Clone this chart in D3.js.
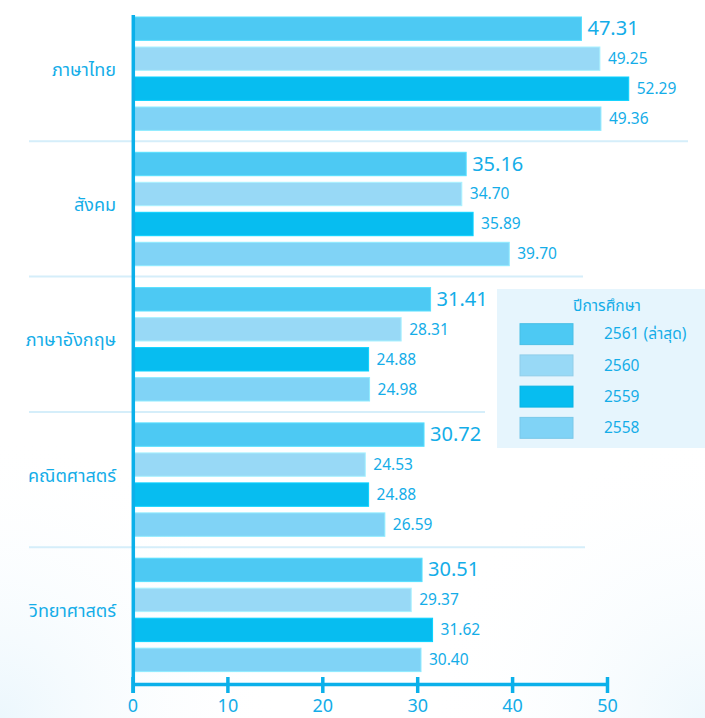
<!DOCTYPE html>
<html>
<head>
<meta charset="utf-8">
<script src="https://cdn.jsdelivr.net/npm/d3@7"></script>
<style>
  html, body { margin: 0; padding: 0; background: #ffffff; }
  svg { display: block; font-family: "Noto Sans Thai", "Noto Sans", "Open Sans", sans-serif; }
</style>
</head>
<body>
<svg id="chart" width="705" height="718"></svg>
<script>
// Subjects (groups) and academic years (series)
const categories = ["ภาษาไทย", "สังคม", "ภาษาอังกฤษ", "คณิตศาสตร์", "วิทยาศาสตร์"];
const years = ["2561", "2560", "2559", "2558"];
const yearLabels = ["2561 (ล่าสุด)", "2560", "2559", "2558"];
const legendTitle = "ปีการศึกษา";

// Average scores per year, one array per year, in subject order
const scores2561 = [47.31, 35.16, 31.41, 30.72, 30.51];
const scores2560 = [49.25, 34.70, 28.31, 24.53, 29.37];
const scores2559 = [52.29, 35.89, 24.88, 24.88, 31.62];
const scores2558 = [49.36, 39.70, 24.98, 26.59, 30.40];
const seriesValues = [scores2561, scores2560, scores2559, scores2558];

const tickValues = [0, 10, 20, 30, 40, 50];

const colors = ["#4dc9f3", "#98d9f6", "#07bdf0", "#80d3f6"];
const textColor = "#14ade8";
const axisColor = "#0bb0ea";

const svg = d3.select("#chart");

// soft background tint
const defs = svg.append("defs");
const g1 = defs.append("radialGradient").attr("id", "bgTint1").attr("cx", "0%").attr("cy", "100%").attr("r", "40%");
g1.append("stop").attr("offset", "0%").attr("stop-color", "#ecf7fd");
g1.append("stop").attr("offset", "100%").attr("stop-color", "#ffffff").attr("stop-opacity", 0);
const g2 = defs.append("radialGradient").attr("id", "bgTint2").attr("cx", "100%").attr("cy", "100%").attr("r", "40%");
g2.append("stop").attr("offset", "0%").attr("stop-color", "#eef8fd");
g2.append("stop").attr("offset", "100%").attr("stop-color", "#ffffff").attr("stop-opacity", 0);
svg.append("rect").attr("width", 705).attr("height", 718).attr("fill", "#ffffff");
svg.append("rect").attr("width", 705).attr("height", 718).attr("fill", "url(#bgTint1)");
svg.append("rect").attr("width", 705).attr("height", 718).attr("fill", "url(#bgTint2)");

// scales
const x = d3.scaleLinear().domain([0, 50]).range([132.5, 607]);
const y0 = d3.scaleBand().domain(categories).range([10, 10 + 5 * 135.3]);
const y1 = d3.scaleBand().domain(years).range([3.7, 123.7]).paddingInner(0.22).paddingOuter(0.11);

// separator lines between subject groups (right ends in px)
const sepEnds = [688, 583, 485, 585];
categories.slice(0, -1).forEach((c, i) => {
  const yy = y0(c) + y0.step() - 4;
  svg.append("line")
    .attr("x1", 29).attr("x2", sepEnds[i])
    .attr("y1", yy).attr("y2", yy)
    .attr("stroke", "#d5eefa").attr("stroke-width", 2);
});

// bars
const groups = svg.selectAll("g.group")
  .data(categories)
  .join("g")
  .attr("class", "group")
  .attr("transform", d => `translate(0,${y0(d)})`);

groups.each(function(cat, ci) {
  const g = d3.select(this);
  years.forEach((yr, si) => {
    const v = seriesValues[si][ci];
    g.append("rect")
      .attr("x", x(0) + 2)
      .attr("y", y1(yr))
      .attr("width", x(v) - x(0) - 2)
      .attr("height", y1.bandwidth())
      .attr("fill", colors[si])
      .attr("stroke", d3.color(colors[si]).brighter(0.3))
      .attr("stroke-width", 1);
    g.append("text")
      .attr("x", x(v) + (si === 0 ? 6 : 8))
      .attr("y", y1(yr) + y1.bandwidth() / 2 + 1)
      .attr("dominant-baseline", "middle")
      .attr("fill", textColor)
      .attr("font-size", si === 0 ? 20 : 15.5)
      .text(v.toFixed(2));
  });
  // subject label
  g.append("text")
    .attr("x", 116)
    .attr("y", y1.range()[0] + (y1.range()[1] - y1.range()[0]) / 2 - 3)
    .attr("text-anchor", "end")
    .attr("dominant-baseline", "middle")
    .attr("fill", textColor)
    .attr("font-size", 18)
    .text(cat);
});

// vertical axis line
svg.append("line")
  .attr("x1", 133.3).attr("x2", 133.3)
  .attr("y1", 15).attr("y2", 693)
  .attr("stroke", axisColor).attr("stroke-width", 3.5);

// bottom axis
const axisY = 684;
const xAxis = d3.axisBottom(x).tickValues(tickValues).tickSizeOuter(0).tickFormat(d3.format("d"));
const ax = svg.append("g").attr("transform", `translate(0,${axisY})`).call(xAxis);
ax.select(".domain").attr("stroke", axisColor).attr("stroke-width", 3.5);
ax.selectAll(".tick line").attr("y1", -7).attr("y2", 9).attr("stroke", axisColor).attr("stroke-width", 3.5);
ax.selectAll(".tick text")
  .attr("y", 15).attr("dy", "0.71em")
  .attr("fill", textColor)
  .attr("font-size", 18)
  .attr("font-family", "\"Noto Sans\", sans-serif");

// legend
const legend = svg.append("g");
legend.append("rect")
  .attr("x", 497).attr("y", 289)
  .attr("width", 210).attr("height", 159)
  .attr("fill", "#e6f5fd");
legend.append("text")
  .attr("x", 607).attr("y", 307)
  .attr("text-anchor", "middle")
  .attr("dominant-baseline", "middle")
  .attr("fill", textColor)
  .attr("font-size", 15.5)
  .text(legendTitle);
const ly = d3.scaleBand().domain(years).range([319, 443]).paddingInner(0.33).paddingOuter(0.15);
years.forEach((yr, i) => {
  legend.append("rect")
    .attr("x", 520).attr("y", ly(yr))
    .attr("width", 53).attr("height", ly.bandwidth())
    .attr("fill", colors[i])
    .attr("stroke", d3.color(colors[i]).darker(0.15))
    .attr("stroke-width", 1);
  legend.append("text")
    .attr("x", 604).attr("y", ly(yr) + ly.bandwidth() / 2 + 1)
    .attr("dominant-baseline", "middle")
    .attr("fill", textColor)
    .attr("font-size", 15.5)
    .text(yearLabels[i]);
});
</script>
</body>
</html>
